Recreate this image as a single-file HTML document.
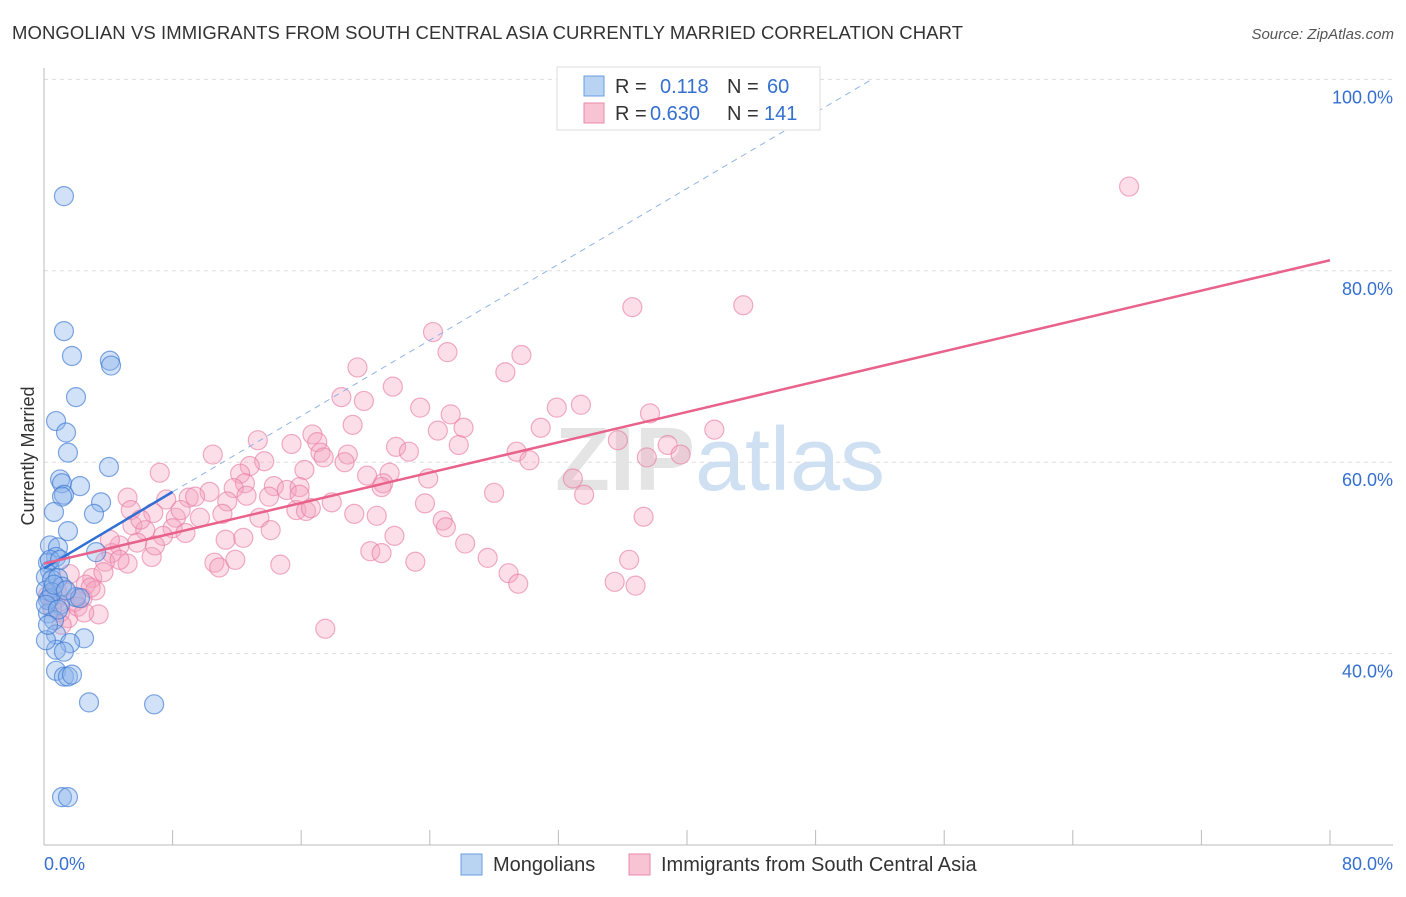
<!DOCTYPE html>
<html><head><meta charset="utf-8"><style>
body{margin:0;background:#fff;font-family:"Liberation Sans",sans-serif;}
svg text{font-family:"Liberation Sans",sans-serif;}
</style></head><body>
<svg id="chart" width="1406" height="892" xmlns="http://www.w3.org/2000/svg">
<text x="12" y="39" font-size="18.5" fill="#333" textLength="951">MONGOLIAN VS IMMIGRANTS FROM SOUTH CENTRAL ASIA CURRENTLY MARRIED CORRELATION CHART</text>
<text x="1394" y="39" font-size="15" fill="#555" font-style="italic" text-anchor="end">Source: ZipAtlas.com</text>
<text x="34" y="456" font-size="18" fill="#333" text-anchor="middle" transform="rotate(-90 34 456)">Currently Married</text>
<g id="grid"></g>
<text x="720" y="490" font-size="90" fill="#e4e4e4" text-anchor="middle" font-weight="bold">ZIP<tspan fill="#cfe0f3" font-weight="normal">atlas</tspan></text>
<g id="axes"></g>
<g id="pts"></g>
<g id="lines"></g>
<g>
<rect x="557" y="67" width="263" height="63" fill="#fff" stroke="#ddd"/>
<rect x="584" y="76" width="20" height="20" fill="#b9d3f3" stroke="#6a9ee0"/>
<rect x="584" y="103" width="20" height="20" fill="#f8c3d3" stroke="#e88aa8"/>
<text x="615" y="93" font-size="20" fill="#333">R = <tspan fill="#3570d0" x="660">0.118</tspan><tspan x="727" fill="#333">N =</tspan><tspan x="767" fill="#3570d0">60</tspan></text>
<text x="615" y="120" font-size="20" fill="#333">R = <tspan fill="#3570d0" x="650">0.630</tspan><tspan x="727" fill="#333">N =</tspan><tspan x="764" fill="#3570d0">141</tspan></text>
</g>
<g>
<rect x="461" y="854" width="21" height="21" fill="#b9d3f3" stroke="#6a9ee0"/>
<text x="493" y="871" font-size="20" fill="#333">Mongolians</text>
<rect x="629" y="854" width="21" height="21" fill="#f8c3d3" stroke="#e88aa8"/>
<text x="661" y="871" font-size="20" fill="#333">Immigrants from South Central Asia</text>
</g>
</svg>
<script>
const blueX=[1.24,1.24,1.74,4.1,4.17,1.99,0.75,1.37,1.49,4.04,1.0,1.12,2.24,1.24,1.12,3.55,0.62,3.11,1.49,0.37,0.87,0.75,3.24,0.25,0.37,0.12,0.5,0.87,1.12,0.12,0.37,1.0,1.99,2.24,0.25,0.62,0.75,2.49,1.62,0.75,1.24,0.75,1.24,1.49,1.74,2.8,6.85,1.12,1.49,0.25,0.5,0.12,0.87,0.62,1.37,0.37,0.12,0.25,1.0];
const blueY=[87.8,73.7,71.1,70.6,70.1,66.8,64.3,63.1,61.0,59.5,58.2,57.8,57.5,56.6,56.4,55.8,54.8,54.6,52.8,51.3,51.1,50.1,50.6,49.5,48.7,48.0,47.7,47.9,47.0,46.6,45.8,45.1,45.9,45.8,44.2,43.5,42.0,41.6,41.1,40.4,40.2,38.2,37.6,37.6,37.8,34.9,34.7,25.0,25.0,45.6,46.4,45.1,44.6,47.2,46.6,49.8,41.4,43.0,49.8];
const pinkX=[67.5,43.5,36.6,24.2,25.1,29.7,19.5,28.7,21.7,18.5,19.9,23.4,31.9,33.4,25.3,37.7,19.2,26.1,24.5,30.9,41.7,13.3,16.7,15.4,17.0,25.8,35.7,38.8,21.9,10.5,17.2,17.4,22.7,29.4,18.9,13.7,12.8,18.7,30.2,37.5,39.6,7.2,12.2,16.2,20.1,23.9,21.5,12.5,14.3,15.1,21.1,21.0,32.9,10.3,9.0,9.4,11.8,15.9,5.2,7.6,11.4,12.6,14.0,17.9,28.0,33.6,23.7,11.1,13.4,15.7,16.3,16.6,19.3,20.7,6.8,5.4,8.2,9.7,5.5,6.3,8.0,8.8,7.4,5.8,11.3,12.4,21.8,24.8,25.0,26.2,37.3,4.7,4.2,6.7,5.2,3.8,10.6,10.9,14.7,20.3,21.0,23.1,27.6,36.4,3.0,3.7,1.6,2.6,3.2,28.9,29.5,35.5,36.8,1.9,3.4,0.7,1.0,1.5,2.4,0.25,0.5,17.5,4.1,6.0,8.5,11.9,0.8,1.3,2.1,2.5,1.1,2.9,4.7,6.9,14.1,15.9];
const pinkY=[88.8,76.4,76.2,73.6,71.5,71.2,69.9,69.4,67.9,66.8,66.4,65.7,65.7,66.0,65.0,65.1,63.9,63.6,63.3,63.6,63.4,62.3,62.9,61.9,62.1,61.8,62.3,61.8,61.6,60.8,61.0,60.5,61.1,61.1,60.8,60.1,59.6,60.0,60.2,60.5,60.8,58.9,58.8,59.2,58.6,58.3,58.9,57.8,57.5,57.1,57.8,57.4,58.3,56.9,56.3,56.4,57.3,57.4,56.3,56.1,55.9,56.5,56.4,55.8,56.8,56.6,55.7,54.6,54.2,55.0,54.9,55.2,54.6,54.4,54.7,55.0,54.2,54.2,53.4,52.9,53.1,52.6,52.3,51.6,51.9,52.1,52.3,53.9,53.2,51.5,54.3,51.3,50.5,50.1,49.4,49.6,49.5,49.0,49.3,50.7,50.5,49.6,50.0,49.8,47.9,48.5,48.3,47.2,46.6,48.4,47.3,47.5,47.1,45.4,44.1,45.6,44.3,43.7,45.8,46.1,44.8,42.6,51.9,54.0,55.0,49.8,46.6,46.6,44.9,44.3,43.0,46.9,49.8,51.3,52.9,56.6];
const yTicks=[100,80,60,40];
const xTickLabels=["0.0%","80.0%"];
const blueTrend=[0,48.9,8.0,56.9];
const blueDash=[8.0,56.9,51.4,99.9];
const pinkTrend=[0,49.4,80,81.1];
const X=v=>44+v*16.075, Y=v=>845-(v-20)*9.57;
const NS="http://www.w3.org/2000/svg";
function mk(p,t,a){const e=document.createElementNS(NS,t);for(const k in a)e.setAttribute(k,a[k]);p.appendChild(e);return e;}
const grid=document.getElementById('grid'),axes=document.getElementById('axes'),pts=document.getElementById('pts'),lines=document.getElementById('lines');
yTicks.forEach(v=>{
 const l=mk(grid,'line',{x1:44,x2:1393,y1:Y(v),y2:Y(v),stroke:'#ddd','stroke-dasharray':'4,4'});
 
 
 const t=mk(grid,'text',{x:1393,y:Y(v)+24,'font-size':18,fill:'#3570d0','text-anchor':'end'});t.textContent=v.toFixed(1)+'%';
 
 
});
mk(axes,'line',{x1:44,x2:44,y1:68,y2:845,stroke:'#bbb'});
mk(axes,'line',{x1:44,x2:1393,y1:845,y2:845,stroke:'#bbb'});
for(let i=0;i<=10;i++){mk(axes,'line',{x1:X(i*8),x2:X(i*8),y1:830,y2:845,stroke:'#bbb'});}
const t0=mk(axes,'text',{x:44,y:870,'font-size':18,fill:'#3570d0'});t0.textContent=xTickLabels[0];


const t1=mk(axes,'text',{x:1393,y:870,'font-size':18,fill:'#3570d0','text-anchor':'end'});t1.textContent=xTickLabels[1];


pinkX.forEach((x,i)=>{const c=mk(pts,'circle',{cx:X(x),cy:Y(pinkY[i]),r:9.5,fill:'rgba(244,160,188,0.35)',stroke:'rgba(232,120,160,0.6)','stroke-width':1.2});
 
 });
blueX.forEach((x,i)=>{const c=mk(pts,'circle',{cx:X(x),cy:Y(blueY[i]),r:9.5,fill:'rgba(140,180,235,0.4)',stroke:'rgba(60,120,210,0.65)','stroke-width':1.2});
 
 });
const bd=mk(lines,'line',{x1:X(blueDash[0]),y1:Y(blueDash[1]),x2:X(blueDash[2]),y2:Y(blueDash[3]),stroke:'#8fb4e6','stroke-width':1,'stroke-dasharray':'6,5'});


const bt=mk(lines,'line',{x1:X(blueTrend[0]),y1:Y(blueTrend[1]),x2:X(blueTrend[2]),y2:Y(blueTrend[3]),stroke:'#2f6fd6','stroke-width':2.5});


const pt=mk(lines,'line',{x1:X(pinkTrend[0]),y1:Y(pinkTrend[1]),x2:X(pinkTrend[2]),y2:Y(pinkTrend[3]),stroke:'#e8628c','stroke-width':2.5});


</script>
</body></html>
